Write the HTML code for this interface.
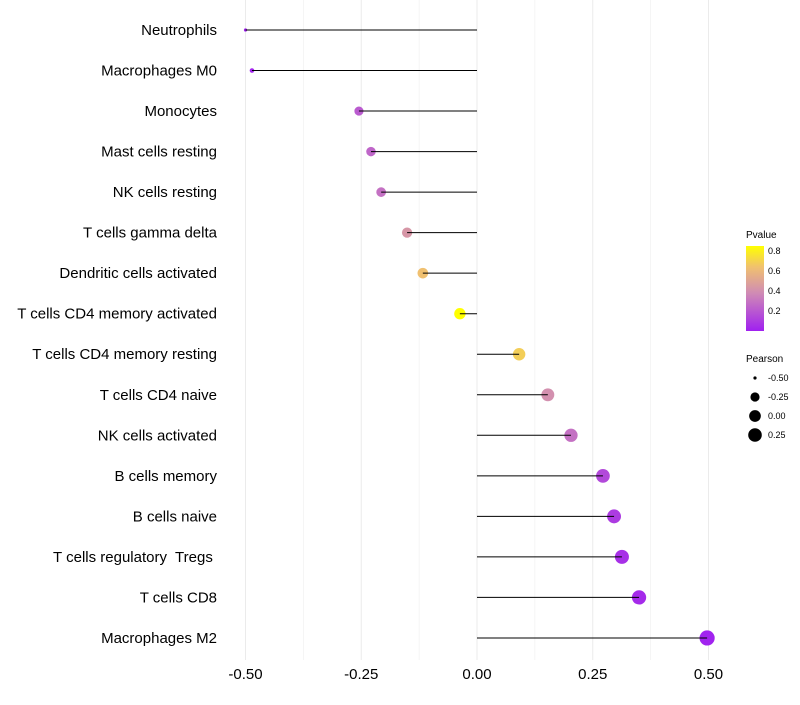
<!DOCTYPE html>
<html><head><meta charset="utf-8"><style>
body{margin:0;background:#fff;font-family:"Liberation Sans",Arial,sans-serif}
svg text{font-family:"Liberation Sans",Arial,sans-serif;white-space:pre}
</style></head><body>
<svg id="chart" width="800" height="700">
<defs><linearGradient id="pg" x1="0" y1="1" x2="0" y2="0">
<stop offset="0" stop-color="#a020f0"/><stop offset="0.45" stop-color="#d08cb4"/><stop offset="0.75" stop-color="#f0c070"/><stop offset="1" stop-color="#ffff00"/></linearGradient></defs>
<g id="grid"></g>
<g id="marks"></g>
<g id="labels"></g>
<g>
<text x="746" y="238" font-size="10">Pvalue</text>
<rect x="746" y="246" width="18" height="85" fill="url(#pg)"/>
<g id="pticks" font-size="9"></g>
</g>
<g id="sizeleg">
<text x="746" y="362" font-size="10">Pearson</text>
</g>
</svg>
<script>
const categories=["Neutrophils","Macrophages M0","Monocytes","Mast cells resting","NK cells resting","T cells gamma delta","Dendritic cells activated","T cells CD4 memory activated","T cells CD4 memory resting","T cells CD4 naive","NK cells activated","B cells memory","B cells naive","T cells regulatory  Tregs ","T cells CD8","Macrophages M2"];
const pearson=[-0.5,-0.486,-0.255,-0.229,-0.207,-0.151,-0.117,-0.037,0.091,0.153,0.203,0.272,0.296,0.313,0.35,0.497];
const pvalue=[0.0,0.02,0.22,0.26,0.3,0.45,0.65,0.88,0.7,0.42,0.3,0.15,0.1,0.06,0.04,0.01];
const xTicks=[-0.5,-0.25,0,0.25,0.5];
const xTickLabels=["-0.50","-0.25","0.00","0.25","0.50"];
const pTicks=[0.2,0.4,0.6,0.8];
const sizeLegend=[-0.5,-0.25,0,0.25];
const sizeLegendLabels=["-0.50","-0.25","0.00","0.25"];
const NS="http://www.w3.org/2000/svg";
const x=v=>477+v*463;
const y=i=>30+i*40.53;
const r=v=>1.6+6*Math.sqrt(Math.max(0,v+0.5));
function col(p){const st=[[0,[160,32,240]],[0.4,[208,140,180]],[0.65,[240,192,112]],[0.88,[255,255,0]]];p=Math.min(0.88,Math.max(0,p));
for(let k=1;k<st.length;k++){if(p<=st[k][0]){const a=st[k-1],b=st[k],t=(p-a[0])/(b[0]-a[0]);return "rgb("+a[1].map((c,j)=>Math.round(c+(b[1][j]-c)*t)).join(",")+")";}}return "rgb(255,255,0)";}
function mk(t,at,par){const e=document.createElementNS(NS,t);for(const k in at)e.setAttribute(k,at[k]);document.getElementById(par).appendChild(e);return e;}
for(let v=-0.5;v<=0.5001;v+=0.125){const e=mk("line",{x1:x(v),x2:x(v),y1:0,y2:660,stroke:"#ebebeb","stroke-width":Math.abs((v*4)%1)<0.01?1:0.5},"grid");

}
xTicks.forEach((v,i)=>{const t=mk("text",{x:x(v),y:679,"font-size":15,"text-anchor":"middle"},"labels");t.textContent=xTickLabels[i];

});
categories.forEach((c,i)=>{const t=mk("text",{x:217,y:y(i)+5,"font-size":15,"text-anchor":"end"},"labels");t.textContent=c;


const d=mk("circle",{cx:x(pearson[i]),cy:y(i),r:r(pearson[i]),fill:col(pvalue[i])},"marks");


const l=mk("line",{x1:x(pearson[i]),x2:x(0),y1:y(i),y2:y(i),stroke:"#000","stroke-width":1},"marks");

});
pTicks.forEach(p=>{const yy=331-p*100;const t=mk("text",{x:768,y:yy+3,"font-size":9},"pticks");t.textContent=p.toFixed(1);

});
sizeLegend.forEach((v,i)=>{const yy=378+i*19;const c=mk("circle",{cx:755,cy:yy,r:r(v),fill:"#000"},"sizeleg");


const t=mk("text",{x:768,y:yy+3,"font-size":9},"sizeleg");t.textContent=sizeLegendLabels[i];

});
</script>
</body></html>
